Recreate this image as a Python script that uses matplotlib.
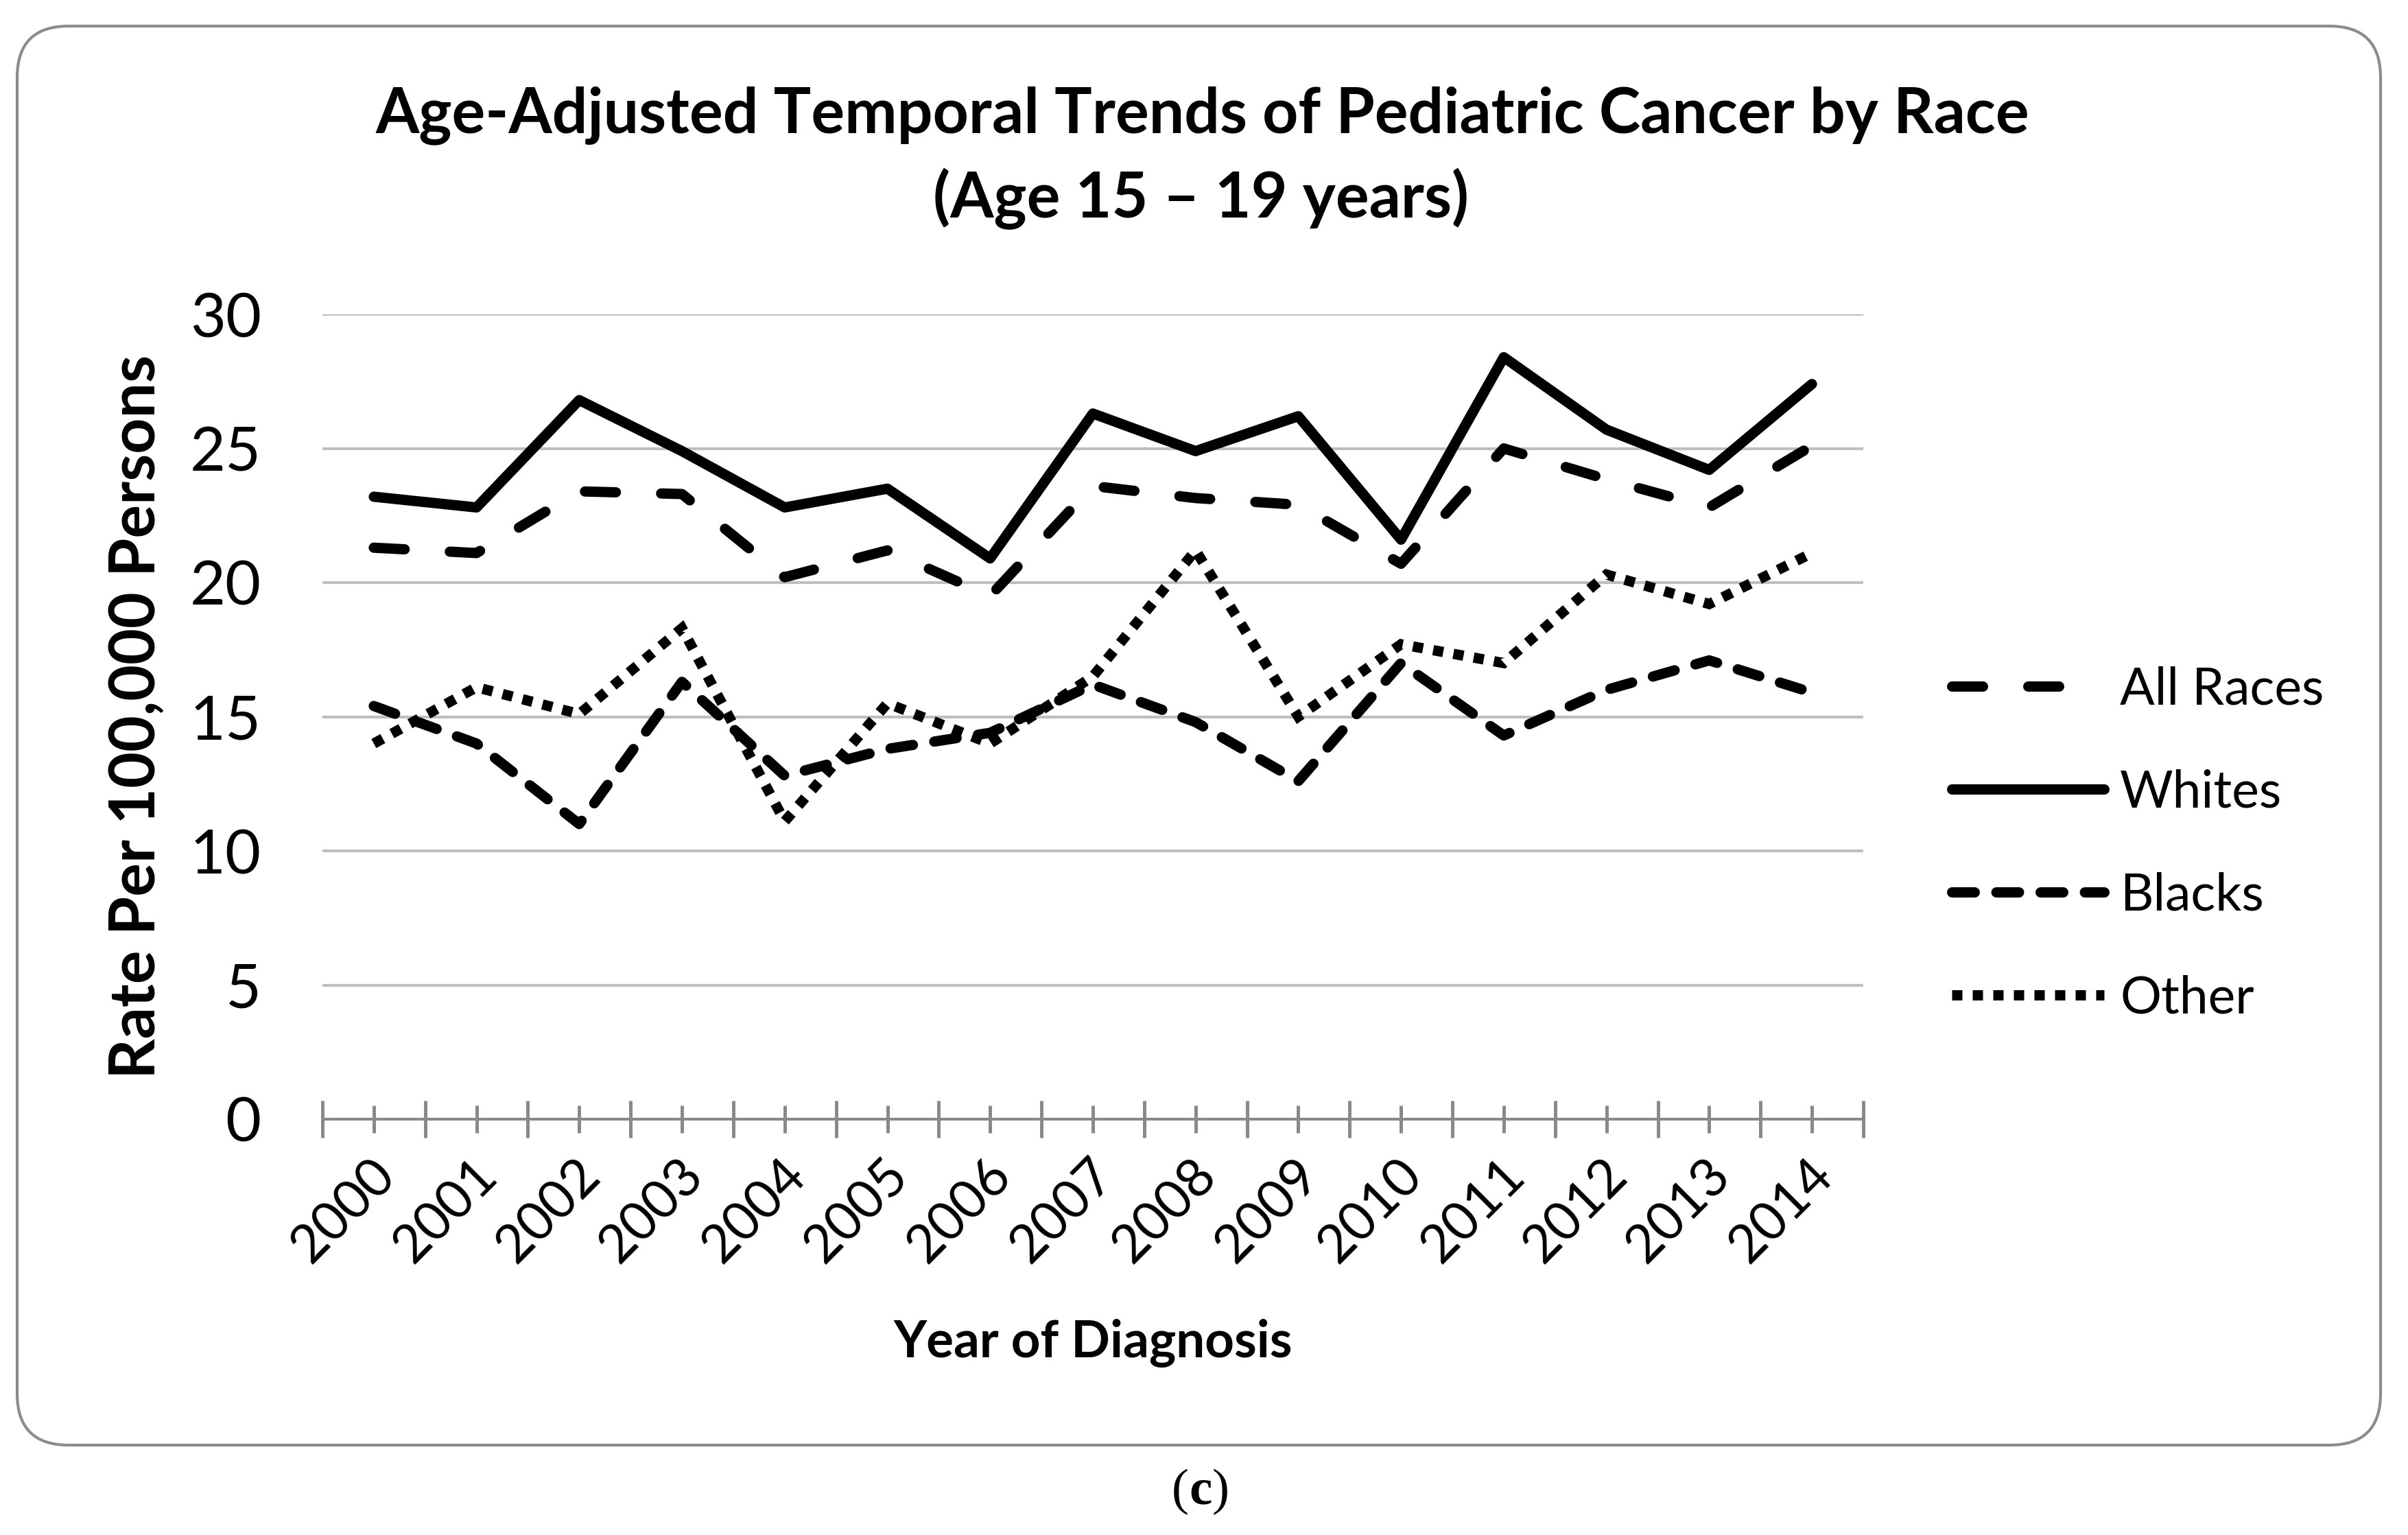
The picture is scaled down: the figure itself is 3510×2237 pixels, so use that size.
import matplotlib
matplotlib.use("Agg")
import matplotlib.pyplot as plt
from matplotlib.patches import FancyBboxPatch
from matplotlib.transforms import ScaledTranslation

plt.rcParams['font.family'] = ['Lato', 'DejaVu Sans']

# ------------------------------------------------------------------ data
years = ["2000", "2001", "2002", "2003", "2004", "2005", "2006", "2007",
         "2008", "2009", "2010", "2011", "2012", "2013", "2014"]
all_races = [21.3, 21.1, 23.4, 23.3, 20.2, 21.2, 19.5, 23.6,
             23.15, 22.9, 20.7, 25.0, 23.85, 22.8, 25.1]
whites = [23.2, 22.8, 26.8, 24.9, 22.8, 23.5, 20.9, 26.3,
          24.9, 26.2, 21.6, 28.4, 25.7, 24.2, 27.4]
blacks = [15.4, 14.0, 11.0, 16.3, 12.8, 13.8, 14.4, 16.2,
          14.8, 12.6, 17.0, 14.3, 16.0, 17.1, 15.9]
other = [14.0, 16.1, 15.1, 18.3, 11.1, 15.5, 14.0, 16.5,
         21.2, 15.0, 17.7, 17.0, 20.3, 19.2, 21.1]
yticks = [0, 5, 10, 15, 20, 25, 30]

# ---------------------------------------------------------------- figure
W, H, DPI = 3510, 2237, 300
fig = plt.figure(figsize=(W / DPI, H / DPI), dpi=DPI)

def fx(px):
    return px / W

def fy(py):
    return 1 - py / H

# plot area in pixel coords of the reference
L, R, T, B = 470, 2716, 458, 1631
ax = fig.add_axes([fx(L), fy(B), fx(R - L), (B - T) / H])

x = list(range(len(years)))
lw = 3.6
ax.plot(x, all_races, color="black", lw=lw, dashes=(3.0, 4.4),
        dash_capstyle="round", dash_joinstyle="round", label="All Races")
ax.plot(x, whites, color="black", lw=lw, solid_capstyle="round",
        solid_joinstyle="round", label="Whites")
ax.plot(x, blacks, color="black", lw=lw, dashes=(2.2, 2.1),
        dash_capstyle="round", dash_joinstyle="round", label="Blacks")
ax.plot(x, other, color="black", lw=lw, dashes=(1, 1),
        dash_capstyle="butt", dash_joinstyle="miter", label="Other")

ax.set_xlim(-0.5, len(years) - 0.5)
ax.set_ylim(0, 30)
ax.set_yticks(yticks)
ax.set_yticklabels([str(v) for v in yticks])
ax.grid(axis="y", color="#bfbfbf", lw=1.0)
ax.set_axisbelow(True)

for s in ("top", "right", "left"):
    ax.spines[s].set_visible(False)
ax.spines["bottom"].set_color("#898989")
ax.spines["bottom"].set_linewidth(0.96)

axis_gray = "#898989"
ax.set_xticks(x)
ax.set_xticks([i - 0.5 for i in range(len(years) + 1)], minor=True)
ax.tick_params(axis="x", which="major", direction="inout", length=9.8,
               width=1.2, color=axis_gray, labelsize=18.5, pad=6)
ax.tick_params(axis="x", which="minor", direction="inout", length=13,
               width=1.2, color=axis_gray)
ax.tick_params(axis="y", length=0, labelsize=21.5, pad=21.4)
ax.set_xticklabels(years, rotation=45, ha="right", va="top",
                   rotation_mode="anchor")
off = ScaledTranslation(-6 / DPI, 0, fig.dpi_scale_trans)
for lab in ax.get_xticklabels():
    lab.set_transform(lab.get_transform() + off)

# legend
fig.legend(loc="center left", bbox_to_anchor=(fx(2845), fy(1230)),
           frameon=False, fontsize=18, handlelength=222 / 75,
           handletextpad=23 / 75, labelspacing=1.08, borderpad=0,
           borderaxespad=0)

# titles and axis labels
fig.text(fx(1753), fy(193), "Age-Adjusted Temporal Trends of Pediatric Cancer by Race",
         ha="center", va="baseline", fontsize=21.9, fontweight="bold")
fig.text(fx(1750), fy(317), "(Age 15 \u2013 19 years)",
         ha="center", va="baseline", fontsize=21.9, fontweight="bold")
fig.text(fx(1593), fy(1978), "Year of Diagnosis", ha="center",
         va="baseline", fontsize=17.9, fontweight="bold")
fig.text(fx(226), fy(1044), "Rate Per 100,000 Persons", ha="center",
         va="baseline", rotation=90, rotation_mode="anchor",
         fontsize=21.9, fontweight="bold")

# rounded frame around the chart
frame = FancyBboxPatch((25 / DPI, (H - 2106) / DPI), (3470 - 25) / DPI,
                       (2106 - 38) / DPI,
                       boxstyle="round,pad=0,rounding_size=0.25",
                       transform=fig.dpi_scale_trans, fill=False,
                       ec="#8c8c8c", lw=1.0)
fig.add_artist(frame)

# panel letter
serif = ["Liberation Serif", "DejaVu Serif"]
fig.text(fx(1750), fy(2192), "c", ha="center", va="baseline",
         fontsize=18, fontweight="bold", family=serif)
fig.text(fx(1733), fy(2192), "(", ha="right", va="baseline",
         fontsize=18, family=serif)
fig.text(fx(1767), fy(2192), ")", ha="left", va="baseline",
         fontsize=18, family=serif)

fig.savefig("out.png", dpi=DPI)
